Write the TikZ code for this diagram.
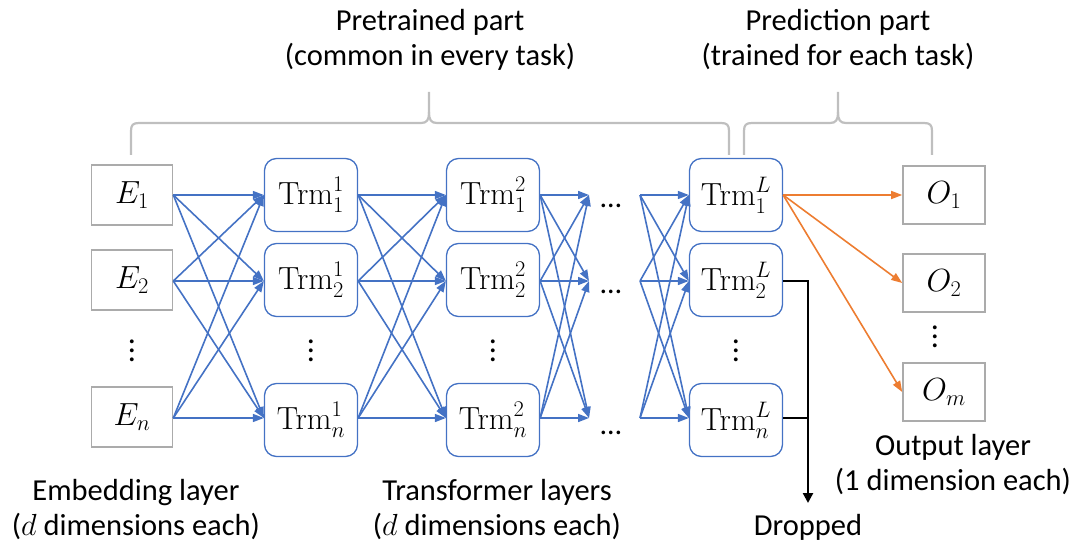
\RequirePackage{fix-cm}
\documentclass[tikz,border=0pt]{standalone}
\usepackage[no-math]{fontspec}
\setmainfont{Carlito}
\usetikzlibrary{arrows.meta}
\definecolor{trmblue}{HTML}{4472C4}
\definecolor{outorange}{HTML}{ED7D31}
\definecolor{boxgray}{HTML}{ABABAB}
\definecolor{bracegray}{HTML}{BFBFBF}
% tall vertical ellipsis built from three full stops
\newcommand{\tallvdots}{\vbox{\baselineskip=9pt\lineskiplimit=-20pt\hbox{.}\hbox{.}\hbox{.}}}
\tikzset{
  mathfont/.style={font=\fontsize{32}{36}\selectfont},
  embbox/.style={draw=boxgray, line width=1.6pt, minimum width=81pt, minimum height=60pt, inner sep=0pt, mathfont},
  outbox/.style={embbox, minimum width=82pt, minimum height=58pt},
  trmbox/.style={draw=trmblue, line width=1.3pt, rounded corners=12pt, minimum width=93pt, minimum height=73pt, inner sep=0pt, mathfont},
  link/.style={draw=trmblue, line width=1.6pt, -{Triangle[length=11pt,width=8pt]}},
  olink/.style={draw=outorange, line width=1.6pt, -{Triangle[length=11pt,width=8pt]}},
  droplink/.style={draw=black, line width=1.5pt},
  brace/.style={draw=bracegray, line width=2.2pt},
  caption/.style={font=\fontsize{30.5}{35}\selectfont, align=center, inner sep=0pt},
  vdots/.style={font=\fontsize{32}{36}\selectfont, inner sep=0pt},
  hdots/.style={font=\fontsize{30}{32}\selectfont, inner sep=0pt, anchor=base},
}
\begin{document}
\begin{tikzpicture}[x=1pt, y=-1pt]
\useasboundingbox (0,0) rectangle (1075,548);

% group labels
\node[caption] (pre) at (430,40) {Pretrained part\\(common in every task)};
\node[caption] (pred) at (838,40) {Prediction part\\(trained for each task)};

% braces
\draw[brace] (131,155) -- (131,131) .. controls (131,125) and (133,123) .. (139,123)
  -- (421,123) .. controls (427,123) and (429,120) .. (429,112) -- (429,92);
\draw[brace] (429,112) .. controls (429,120) and (431,123) .. (437,123)
  -- (721,123) .. controls (727,123) and (729,125) .. (729,131) -- (729,155);
\draw[brace] (744,155) -- (744,131) .. controls (744,125) and (746,123) .. (752,123)
  -- (830,123) .. controls (836,123) and (838,120) .. (838,112) -- (838,92);
\draw[brace] (838,112) .. controls (838,120) and (840,123) .. (846,123)
  -- (924,123) .. controls (930,123) and (932,125) .. (932,131) -- (932,155);

% embedding layer
\node[embbox] (e1) at (132,195) {$E_1$};
\node[embbox] (e2) at (132,280) {$E_2$};
\node[embbox] (en) at (132,417) {$E_n$};
\node[vdots] (ev) at (132,351) {\tallvdots};

% transformer layers
\foreach \col/\x/\sup in {a/311/1, b/493/2, l/736/L} {
  \node[trmbox] (\col1) at (\x,195) {$\mathrm{Trm}_1^{\sup}$};
  \node[trmbox] (\col2) at (\x,280) {$\mathrm{Trm}_2^{\sup}$};
  \node[trmbox] (\col n) at (\x,420) {$\mathrm{Trm}_n^{\sup}$};
  \node[vdots] (\col v) at (\x,351) {\tallvdots};
}

% elided middle layers
\node[hdots] (d1) at (611,207) {…};
\node[hdots] (d2) at (611,293) {…};
\node[hdots] (dn) at (611,434) {…};
\foreach \r/\y in {1/195, 2/281, n/418} {
  \coordinate (in\r) at (589,\y);
  \coordinate (out\r) at (640,\y);
}

% fully connected links
\foreach \i/\yi in {1/195, 2/281, n/418} {
  \foreach \j/\yj in {1/195, 2/281, n/418} {
    \draw[link] (e\i.east |- 0,\yi) -- (a\j.west |- 0,\yj);
    \draw[link] (a\i.east |- 0,\yi) -- (b\j.west |- 0,\yj);
    \draw[link] (b\i.east |- 0,\yi) -- (in\j);
    \draw[link] (out\i) -- (l\j.west |- 0,\yj);
  }
}

% output layer
\node[outbox] (o1) at (944,195) {$O_1$};
\node[outbox] (o2) at (944,283) {$O_2$};
\node[outbox] (om) at (944,392) {$O_m$};
\node[vdots] (ov) at (935,337) {\tallvdots};

\draw[olink] (l1.east |- 0,195) -- (o1.west);
\draw[olink] (l1.east |- 0,195) -- (o2.west);
\draw[olink] (l1.east |- 0,195) -- (om.west);

% dropped outputs
\coordinate (dropend) at (808,503);
\node[caption, anchor=center] (drop) at (808,527) {Dropped};
\draw[droplink] (l2.east |- 0,281) -| (808,418);
\draw[droplink] (ln.east |- 0,418) -- (808,418);
\draw[droplink, line width=2.4pt, -{Triangle[length=10pt,width=10pt]}] (808,417) -- (dropend);

% layer captions
\node[caption] (embcap) at (136,510) {Embedding layer\\($d$ dimensions each)};
\node[caption] (trmcap) at (497,510) {Transformer layers\\($d$ dimensions each)};
\node[caption] (outcap) at (953,465) {Output layer\\(1 dimension each)};
\end{tikzpicture}
\end{document}
